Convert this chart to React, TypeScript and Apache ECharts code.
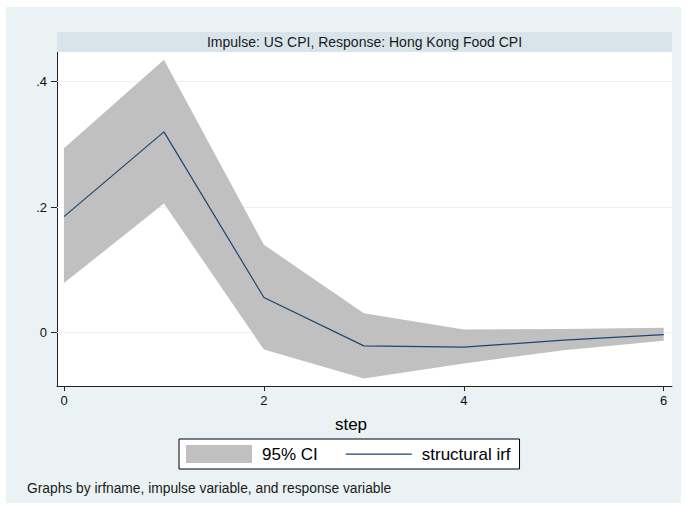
import React, { useEffect, useRef } from "react";
import * as echarts from "echarts";

const steps = [0, 1, 2, 3, 4, 5, 6];
const irf = [0.185, 0.32, 0.056, -0.021, -0.023, -0.012, -0.003];
const ciLower = [0.079, 0.206, -0.027, -0.073, -0.049, -0.028, -0.013];
const ciUpper = [0.294, 0.435, 0.14, 0.031, 0.005, 0.006, 0.008];
const xTicks = [0, 2, 4, 6];
const yTicks = [0, 0.2, 0.4];
const gridLines = [0, 0.2, 0.4];

const titleText = "Impulse: US CPI, Response: Hong Kong Food CPI";
const xName = "step";
const noteText = "Graphs by irfname, impulse variable, and response variable";
const legendNames = ["95% CI", "structural irf"];

const FONT = "'Liberation Sans', Arial, sans-serif";
const LINE_ICON =
  "path://M0,0h0.01v0.01h-0.01z M0,8.4h66v1.3h-66z M65.99,17.99h0.01v0.01h-0.01z";

export default function App() {
  const ref = useRef<HTMLDivElement>(null);
  useEffect(() => {
    if (!ref.current) return;
    const chart = echarts.init(ref.current, undefined, { renderer: "svg" });
    const bandData = steps.map((s, i) => [s, ciLower[i], ciUpper[i]]);
    const option: any = {
      animation: false,
      backgroundColor: "#ffffff",
      textStyle: { fontFamily: FONT },
      grid: {
        left: 57,
        top: 52,
        width: 615,
        height: 334,
        show: true,
        backgroundColor: "#ffffff",
        borderWidth: 0,
        outerBoundsMode: "none",
        containLabel: false,
      },
      xAxis: {
        type: "value",
        min: -0.07,
        max: 6.083,
        axisLine: { show: true, onZero: false, lineStyle: { color: "#222", width: 1 } },
        axisTick: { show: true, customValues: xTicks, length: 5, lineStyle: { color: "#222" } },
        axisLabel: {
          customValues: xTicks,
          margin: 8,
          fontSize: 13,
          color: "#111",
          fontFamily: FONT,
        },
        splitLine: { show: false },
      },
      yAxis: {
        type: "value",
        min: -0.085,
        max: 0.4473,
        axisLine: { show: true, onZero: false, lineStyle: { color: "#222", width: 1 } },
        axisTick: { show: true, customValues: yTicks, length: 6, lineStyle: { color: "#222" } },
        axisLabel: {
          customValues: yTicks,
          margin: 10,
          fontSize: 13,
          color: "#111",
          fontFamily: FONT,
          formatter: (v: number) => (v === 0 ? "0" : String(+v.toFixed(2)).replace(/^0/, "")),
        },
        splitLine: { show: false },
      },
      legend: {
        left: 179,
        top: 439,
        orient: "horizontal",
        backgroundColor: "#ffffff",
        borderColor: "#000",
        borderWidth: 1,
        borderRadius: 0,
        padding: [6, 9, 6, 7],
        itemGap: 28,
        itemWidth: 66,
        itemHeight: 18,
        selectedMode: false,
        textStyle: { fontSize: 17, color: "#000", fontFamily: FONT, padding: [0, 0, 0, 5] },
        data: [
          { name: legendNames[0], icon: "rect", itemStyle: { color: "#c0c0c0" } },
          { name: legendNames[1], icon: LINE_ICON, itemStyle: { color: "#1a476f" } },
        ],
      },
      graphic: [
        {
          type: "rect",
          z: -10,
          shape: { x: 6, y: 7, width: 675, height: 496 },
          style: { fill: "#eaf2f3" },
          silent: true,
        },
        {
          type: "rect",
          z: 1,
          shape: { x: 57, y: 32, width: 615, height: 20 },
          style: { fill: "#d9e4ea" },
          silent: true,
        },
        {
          type: "text",
          z: 2,
          x: 364.5,
          y: 42,
          style: {
            text: titleText,
            fontSize: 14,
            fontFamily: FONT,
            fill: "#1a1a1a",
            align: "center",
            verticalAlign: "middle",
          },
        },
        {
          type: "text",
          x: 351,
          y: 424,
          style: {
            text: xName,
            fontSize: 17,
            fontFamily: FONT,
            fill: "#000",
            align: "center",
            verticalAlign: "middle",
          },
        },
        {
          type: "text",
          x: 27,
          y: 488,
          style: {
            text: noteText,
            fontSize: 13.8,
            fontFamily: FONT,
            fill: "#1a1a1a",
            align: "left",
            verticalAlign: "middle",
          },
        },
      ],
      series: [
        {
          name: legendNames[0],
          type: "custom",
          z: 2,
          itemStyle: { color: "#c0c0c0" },
          data: bandData,
          encode: { x: 0, y: [1, 2] },
          renderItem: (params: any, api: any) => {
            if (params.dataIndex !== 0) return null;
            const upper = steps.map((s, i) => api.coord([s, ciUpper[i]]));
            const lower = steps.map((s, i) => api.coord([s, ciLower[i]])).reverse();
            return {
              type: "polygon",
              shape: { points: upper.concat(lower) },
              style: { fill: "#c0c0c0", stroke: "none" },
            };
          },
          markLine: {
            silent: true,
            z: 1,
            symbol: "none",
            label: { show: false },
            lineStyle: { color: "#eaf2f3", width: 1, type: "solid" },
            data: gridLines.map((v) => ({ yAxis: v })),
          },
        },
        {
          name: legendNames[1],
          type: "line",
          z: 3,
          data: steps.map((s, i) => [s, irf[i]]),
          symbol: "none",
          showSymbol: false,
          lineStyle: { color: "#1a476f", width: 1.2 },
          itemStyle: { color: "#1a476f" },
        },
      ],
    };
    chart.setOption(option);
    return () => chart.dispose();
  }, []);
  return (
    <div
      ref={ref}
      style={{ position: "absolute", left: 0, top: 0, width: 686, height: 510 }}
    />
  );
}
